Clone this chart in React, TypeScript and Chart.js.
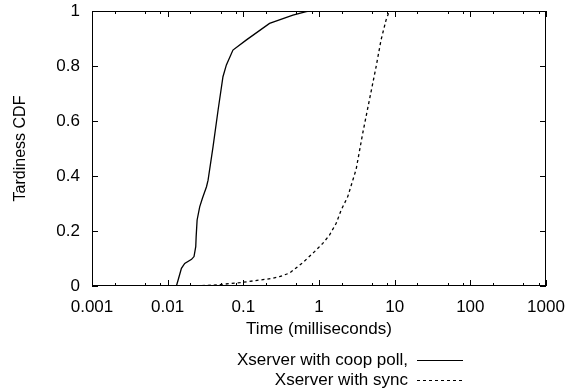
import React, { useEffect, useRef } from "react";
import { Chart, registerables } from "chart.js";

Chart.register(...registerables);

// ---- data ----
const xTickValues = [0.001, 0.01, 0.1, 1, 10, 100, 1000];
const yTickValues = [0, 0.2, 0.4, 0.6, 0.8, 1];
const minorMultipliers = [2, 5, 8];

const coopTimes = [
  0.0125, 0.0131, 0.01375, 0.0152, 0.0168, 0.0207, 0.0223, 0.0235, 0.0238, 0.0245,
  0.0265, 0.0288, 0.0326, 0.0342, 0.0398, 0.0464, 0.0538, 0.0597, 0.0729, 0.11,
  0.222, 0.452, 0.678, 0.75, 2,
];
const coopCdf = [
  0, 0.002, 0.022, 0.064, 0.082, 0.097, 0.107, 0.143, 0.18, 0.24,
  0.288, 0.319, 0.361, 0.385, 0.507, 0.64, 0.761, 0.804, 0.858, 0.895,
  0.955, 0.985, 0.998, 1, 1,
];

const syncTimes = [
  0.0196, 0.04, 0.0895, 0.246, 0.301, 0.408, 0.611, 0.873, 1.122, 1.376,
  1.687, 1.963, 2.4, 3.1, 3.78, 4.63, 5.68, 6.61, 7.69, 8.51,
];
const syncCdf = [
  0, 0.003, 0.012, 0.028, 0.034, 0.047, 0.085, 0.125, 0.155, 0.185,
  0.228, 0.276, 0.325, 0.425, 0.555, 0.676, 0.797, 0.895, 0.967, 1,
];

const seriesLabels = ["Xserver with coop poll,", "Xserver with sync"];
const xTitle = "Time (milliseconds)";
const yTitle = "Tardiness CDF";

const FONT_FAMILY = "'Liberation Sans', Arial, Helvetica, sans-serif";
const FONT_SIZE = 17;

const toPoints = (xs: number[], ys: number[]) => xs.map((x, i) => ({ x, y: ys[i] }));

const framePlugin = {
  id: "gnuplotFrame",
  afterDraw(chart: any) {
    const { ctx, chartArea } = chart;
    const { left, right, top, bottom } = chartArea;
    const xs = chart.scales.x;
    const ys = chart.scales.y;
    ctx.save();
    ctx.strokeStyle = "#000";
    ctx.lineWidth = 1;
    ctx.setLineDash([]);
    ctx.strokeRect(left + 0.5, top + 0.5, right - left - 1, bottom - top - 1);
    ctx.beginPath();
    xTickValues.forEach((v, i) => {
      const px = Math.round(xs.getPixelForValue(v)) + 0.5;
      ctx.moveTo(px, bottom);
      ctx.lineTo(px, bottom - 6);
      ctx.moveTo(px, top);
      ctx.lineTo(px, top + 6);
      if (i < xTickValues.length - 1) {
        minorMultipliers.forEach((m) => {
          const mx = Math.round(xs.getPixelForValue(v * m)) + 0.5;
          ctx.moveTo(mx, bottom);
          ctx.lineTo(mx, bottom - 3);
          ctx.moveTo(mx, top);
          ctx.lineTo(mx, top + 3);
        });
      }
    });
    yTickValues.forEach((v) => {
      const py = Math.round(ys.getPixelForValue(v)) + 0.5;
      ctx.moveTo(left, py);
      ctx.lineTo(left + 6, py);
      ctx.moveTo(right, py);
      ctx.lineTo(right - 6, py);
    });
    ctx.stroke();

    ctx.font = `${FONT_SIZE}px ${FONT_FAMILY}`;
    ctx.fillStyle = "#000";
    ctx.textAlign = "right";
    ctx.textBaseline = "middle";
    const textRight = 408;
    const lineX0 = 417;
    const lineX1 = 463;
    const rows = [360, 380];
    chart.data.datasets.forEach((ds: any, i: number) => {
      const y = rows[i];
      ctx.fillText(seriesLabels[i], textRight, y);
      ctx.beginPath();
      ctx.lineWidth = 1;
      ctx.setLineDash(ds.borderDash || []);
      ctx.moveTo(lineX0, y + 0.5);
      ctx.lineTo(lineX1, y + 0.5);
      ctx.stroke();
    });
    ctx.restore();
  },
};

export default function App() {
  const canvasRef = useRef<HTMLCanvasElement | null>(null);

  useEffect(() => {
    const canvas = canvasRef.current;
    if (!canvas) return;
    const font = { family: FONT_FAMILY, size: FONT_SIZE };
    const chart = new Chart(canvas, {
      type: "scatter",
      data: {
        datasets: [
          {
            label: seriesLabels[0],
            data: toPoints(coopTimes, coopCdf),
            showLine: true,
            borderColor: "#000",
            borderWidth: 1.3,
            pointRadius: 0,
            tension: 0,
          },
          {
            label: seriesLabels[1],
            data: toPoints(syncTimes, syncCdf),
            showLine: true,
            borderColor: "#000",
            borderWidth: 1.3,
            borderDash: [3, 3],
            pointRadius: 0,
            tension: 0,
          },
        ],
      },
      options: {
        animation: false,
        responsive: false,
        devicePixelRatio: 1,
        layout: { padding: { left: 0, right: 29, top: 11, bottom: 0 } },
        plugins: {
          legend: { display: false },
          tooltip: { enabled: false },
        },
        scales: {
          x: {
            type: "logarithmic",
            min: 0.001,
            max: 1000,
            afterBuildTicks: (s: any) => {
              s.ticks = xTickValues.map((v) => ({ value: v }));
            },
            afterFit: (s: any) => {
              s.height = 104;
              s.paddingLeft = 0;
              s.paddingRight = 0;
            },
            ticks: {
              autoSkip: false,
              maxRotation: 0,
              color: "#000",
              font,
              padding: 11,
              callback: (v: any) => String(v),
            },
            grid: { display: false, drawTicks: false },
            border: { display: false },
            title: {
              display: true,
              text: xTitle,
              color: "#000",
              font,
              padding: { top: 0, bottom: 50 },
            },
          },
          y: {
            type: "linear",
            min: 0,
            max: 1,
            afterBuildTicks: (s: any) => {
              s.ticks = yTickValues.map((v) => ({ value: v }));
            },
            afterFit: (s: any) => {
              s.width = 92;
              s.paddingTop = 0;
              s.paddingBottom = 0;
            },
            ticks: {
              color: "#000",
              font,
              padding: 12,
              callback: (v: any) => String(v),
            },
            grid: { display: false, drawTicks: false },
            border: { display: false },
            title: {
              display: true,
              text: yTitle,
              color: "#000",
              font: { family: FONT_FAMILY, size: 16 },
              padding: { top: 11, bottom: 0 },
            },
          },
        },
      },
      plugins: [framePlugin],
    });
    return () => chart.destroy();
  }, []);

  return (
    <div style={{ position: "absolute", left: 0, top: 0, width: 575, height: 390, background: "#fff" }}>
      <canvas ref={canvasRef} width={575} height={390} />
    </div>
  );
}
